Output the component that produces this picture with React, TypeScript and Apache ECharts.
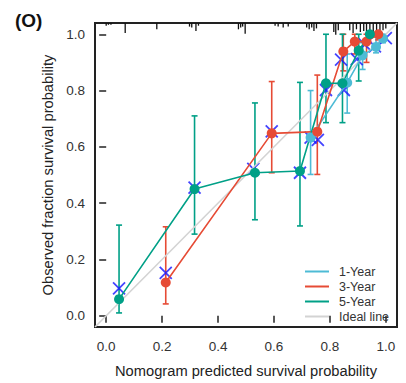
import React, { useEffect, useRef } from "react";
import * as echarts from "echarts";

// ---- data ----
const tickValues = [0, 0.2, 0.4, 0.6, 0.8, 1.0];

// 1-Year: [predicted, observed, lower, upper]
const year1Points = [
  [0.731, 0.633, 0.502, 0.8],
  [0.862, 0.828, 0.72, 0.93],
  [0.917, 0.925, 0.875, 0.97],
  [0.965, 0.955, 0.934, 0.99],
  [0.99, 0.985, 0.97, 1.0],
];
// 3-Year
const year3Points = [
  [0.213, 0.118, 0.042, 0.316],
  [0.592, 0.648, 0.508, 0.832],
  [0.755, 0.654, 0.502, 0.855],
  [0.848, 0.939, 0.87, 1.0],
  [0.889, 0.974, 0.93, 1.0],
  [0.931, 0.974, 0.9, 1.0],
  [0.973, 1.0, 0.98, 1.0],
];
// 5-Year
const year5Points = [
  [0.046, 0.059, 0.01, 0.322],
  [0.316, 0.45, 0.29, 0.71],
  [0.532, 0.508, 0.341, 0.756],
  [0.693, 0.514, 0.319, 0.829],
  [0.786, 0.826, 0.686, 1.0],
  [0.845, 0.826, 0.686, 1.0],
  [0.903, 0.942, 0.834, 1.0],
  [0.943, 1.0, 1.0, 1.0],
];
// bias-corrected estimates (blue X)
const biasCorrected = [
  [0.046, 0.097],
  [0.213, 0.152],
  [0.316, 0.455],
  [0.526, 0.522],
  [0.592, 0.655],
  [0.693, 0.508],
  [0.731, 0.633],
  [0.757, 0.625],
  [0.786, 0.802],
  [0.85, 0.802],
  [0.84, 0.91],
  [0.896, 0.912],
  [0.925, 0.963],
  [0.961, 0.957],
  [1.0, 0.986],
];
// distribution of predicted values (top rug): [predicted, frequency]
const rugData = [
  [0.0, 3], [0.008, 2], [0.017, 2], [0.068, 11], [0.181, 7], [0.298, 4],
  [0.306, 5], [0.321, 9], [0.33, 3], [0.473, 7], [0.481, 5], [0.488, 4],
  [0.497, 12], [0.604, 3], [0.615, 4], [0.633, 5], [0.651, 4], [0.717, 5],
  [0.726, 7], [0.735, 5], [0.743, 9], [0.752, 6], [0.814, 10], [0.821, 13],
  [0.83, 8], [0.871, 8], [0.883, 11], [0.895, 7], [0.909, 10], [0.921, 9],
  [0.931, 12], [0.943, 8], [0.955, 10], [0.967, 9], [0.979, 11], [0.99, 8],
  [1.0, 6],
];
const idealLine = [
  [-0.04, -0.04],
  [1.04, 1.04],
];
const legendNames = ["1-Year", "3-Year", "5-Year", "Ideal line"];

const C1 = "#4DBBD5";
const C3 = "#E64B35";
const C5 = "#00A087";
const FONT = "'Liberation Sans', Arial, Helvetica, sans-serif";

function errorBarSeries(name: string, pts: number[][], color: string) {
  return {
    type: "custom",
    name,
    data: pts.map((p) => [p[0], p[2], p[3]]),
    encode: { x: 0, y: [1, 2] },
    renderItem: (params: any, api: any) => {
      const x = api.value(0);
      const lo = api.coord([x, api.value(1)]);
      const hi = api.coord([x, api.value(2)]);
      const cap = 3;
      const st = { stroke: color, lineWidth: 1.6 };
      return {
        type: "group",
        children: [
          { type: "line", shape: { x1: lo[0], y1: lo[1], x2: hi[0], y2: hi[1] }, style: st },
          { type: "line", shape: { x1: lo[0] - cap, y1: lo[1], x2: lo[0] + cap, y2: lo[1] }, style: st },
          { type: "line", shape: { x1: hi[0] - cap, y1: hi[1], x2: hi[0] + cap, y2: hi[1] }, style: st },
        ],
      };
    },
    silent: true,
  };
}

function lineSeries(name: string, pts: number[][], color: string) {
  return {
    type: "line",
    name,
    color,
    data: pts.map((p) => [p[0], p[1]]),
    symbol: "circle",
    symbolSize: 10,
    lineStyle: { color, width: 1.6 },
    itemStyle: { color },
  };
}

export default function App() {
  const ref = useRef<HTMLDivElement>(null);
  useEffect(() => {
    if (!ref.current) return;
    const chart = echarts.init(ref.current, undefined, { renderer: "svg" });
    const axisCommon = {
      type: "value",
      min: -0.04,
      max: 1.04,
      splitLine: { show: false },
      axisLine: { show: false },
      axisTick: {
        show: true,
        customValues: tickValues,
        length: 7,
        lineStyle: { color: "#222", width: 1.5 },
      },
      axisLabel: {
        customValues: tickValues,
        formatter: (v: number) => v.toFixed(1),
        fontSize: 13.5,
        color: "#333",
        fontFamily: FONT,
      },
      nameLocation: "middle",
      nameTextStyle: { fontSize: 14.7, color: "#222", fontFamily: FONT },
    };
    chart.setOption({
      animation: false,
      backgroundColor: "#fff",
      textStyle: { fontFamily: FONT },
      grid: {
        left: 95,
        top: 23,
        width: 302,
        height: 308,
        show: true,
        borderColor: "#222",
        borderWidth: 2,
        backgroundColor: "transparent",
      },
      xAxis: {
        ...axisCommon,
        name: "Nomogram predicted survival probability",
        nameGap: 36,
        axisLabel: { ...axisCommon.axisLabel, margin: 12 },
      },
      yAxis: {
        ...axisCommon,
        name: "Observed fraction survival probability",
        nameGap: 38,
        axisLabel: { ...axisCommon.axisLabel, margin: 10 },
      },
      legend: {
        data: legendNames,
        orient: "vertical",
        left: 305,
        top: 265,
        padding: 0,
        icon: "rect",
        itemWidth: 24,
        itemHeight: 2,
        itemGap: 2,
        textStyle: { fontSize: 12.5, color: "#333", fontFamily: FONT, padding: [0, 0, 0, 5] },
        selectedMode: false,
      },
      graphic: [
        {
          type: "text",
          left: 15,
          top: 11,
          style: { text: "(O)", font: `bold 19px ${FONT}`, fill: "#111" },
        },
      ],
      series: [
        {
          type: "line",
          name: "Ideal line",
          color: "#d3d3d3",
          data: idealLine,
          symbol: "none",
          lineStyle: { color: "#d3d3d3", width: 1.6 },
          silent: true,
        },
        errorBarSeries("1-Year err", year1Points, C1),
        lineSeries("1-Year", year1Points, C1),
        errorBarSeries("3-Year err", year3Points, C3),
        lineSeries("3-Year", year3Points, C3),
        errorBarSeries("5-Year err", year5Points, C5),
        lineSeries("5-Year", year5Points, C5),
        {
          type: "scatter",
          name: "bias-corrected",
          data: biasCorrected,
          symbol: "path://M0,0L10,10M10,0L0,10",
          symbolSize: 12,
          itemStyle: { color: "rgba(0,0,0,0)", borderColor: "#1515ff", borderWidth: 1.8 },
          silent: true,
        },
        {
          type: "custom",
          name: "rug",
          data: rugData,
          encode: { x: 0 },
          clip: false,
          renderItem: (params: any, api: any) => {
            const v = api.value(0);
            const top = api.coord([v, 1.04]);
            const h = api.value(1) * 0.9;
            return {
              type: "line",
              shape: { x1: top[0], y1: top[1], x2: top[0], y2: top[1] + h },
              style: { stroke: "#111", lineWidth: 1.3 },
            };
          },
          silent: true,
        },
      ],
    });
    return () => chart.dispose();
  }, []);
  return (
    <div
      ref={ref}
      style={{ position: "fixed", left: 0, top: 0, width: 406, height: 383, background: "#fff" }}
    />
  );
}
